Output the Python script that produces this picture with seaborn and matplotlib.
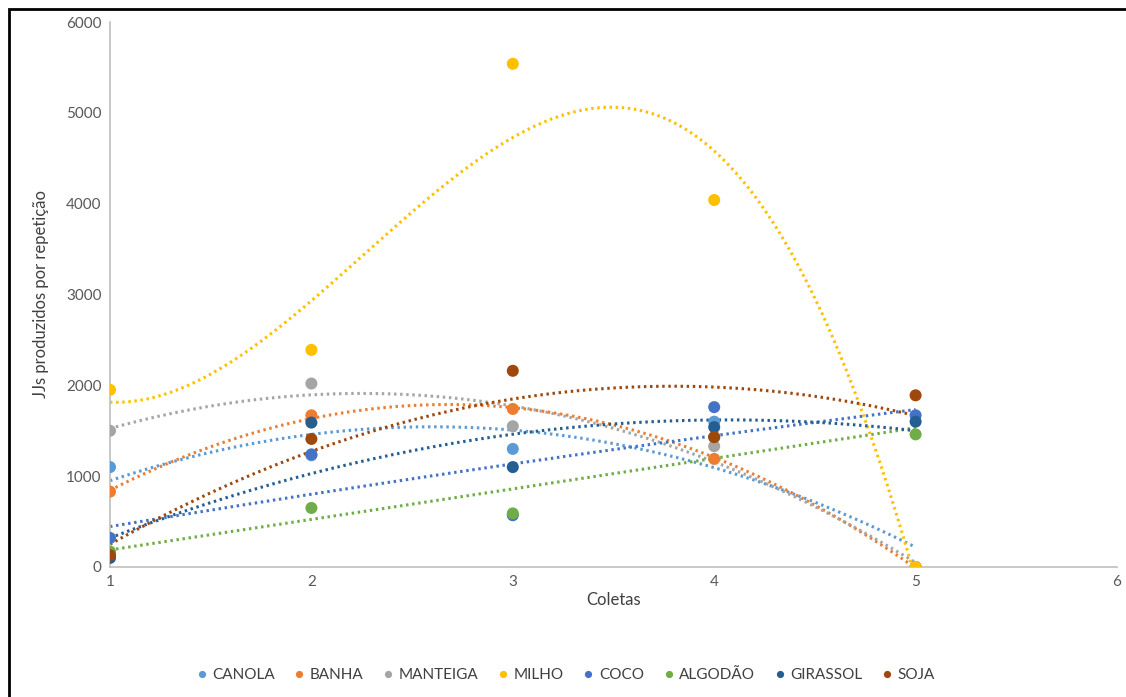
import numpy as np
import pandas as pd
import matplotlib.pyplot as plt
import seaborn as sns
from matplotlib.patches import Rectangle

coletas = [1, 2, 3, 4, 5]
canola = [1100, 1230, 1300, 1600, 0]
banha = [830, 1670, 1740, 1190, 0]
manteiga = [1500, 2020, 1550, 1330, 0]
milho = [1950, 2390, 5540, 4040, 0]
coco = [320, 1240, 570, 1760, 1670]
algodao = [170, 650, 590, 1430, 1460]
girassol = [100, 1590, 1100, 1540, 1600]
soja = [130, 1410, 2160, 1430, 1890]

series = {"CANOLA": canola, "BANHA": banha, "MANTEIGA": manteiga, "MILHO": milho,
          "COCO": coco, "ALGODÃO": algodao, "GIRASSOL": girassol, "SOJA": soja}
cores = ["#5B9BD5", "#ED7D31", "#A5A5A5", "#FFC000", "#4472C4", "#70AD47", "#255E91", "#9E480E"]
ordem = {"MILHO": 3}  # grau do polinômio da linha de tendência

rows = []
for nome, vals in series.items():
    for x, y in zip(coletas, vals):
        rows.append({"Coleta": x, "JJs": y, "Óleo": nome})
df = pd.DataFrame(rows)

sns.set_style("white")
plt.rcParams['font.family'] = ['Lato', 'DejaVu Sans']

fig = plt.figure(figsize=(11.26, 6.97), dpi=100)
ax = fig.add_axes([110 / 1126, 1 - 567 / 697, (1117 - 110) / 1126, (567 - 22) / 697])

# linhas de tendência polinomiais
xs = np.linspace(1, 5, 200)
for (nome, vals), cor in zip(series.items(), cores):
    coef = np.polyfit(coletas, vals, ordem.get(nome, 2))
    ax.plot(xs, np.polyval(coef, xs), color=cor, lw=2.2, ls=(0, (0.8, 1.2)), zorder=2)

sns.scatterplot(data=df, x="Coleta", y="JJs", hue="Óleo", palette=cores, s=75,
                edgecolor="none", ax=ax, zorder=3, legend=True)

ax.set_xlim(1, 6)
ax.set_ylim(0, 6000)
ax.set_xticks(range(1, 7))
ax.set_yticks(range(0, 7000, 1000))
for s in ["top", "right"]:
    ax.spines[s].set_visible(False)
for s in ["left", "bottom"]:
    ax.spines[s].set_color("#BFBFBF")
    ax.spines[s].set_linewidth(1.2)
ax.tick_params(axis="both", labelsize=11, colors="#595959", length=0, pad=6)
ax.set_xlabel("Coletas", fontsize=12, color="#404040", labelpad=2)
ax.set_ylabel("JJs produzidos por repetição", fontsize=12, color="#404040", labelpad=12)

h, l = ax.get_legend_handles_labels()
ax.legend_.remove()
leg = fig.legend(h, l, loc="center", bbox_to_anchor=(0.5, 1 - 675 / 697), ncol=8,
                 frameon=False, fontsize=11, handletextpad=0.0, columnspacing=0.9,
                 handlelength=1.4, markerscale=0.6)
for t in leg.get_texts():
    t.set_color("#404040")

fig.patches.append(Rectangle((9 / 1126, -0.1), 1.2, 1 - 9 / 697 + 0.1,
                             transform=fig.transFigure, fill=False, ec="black", lw=2))

fig.savefig("out.png", dpi=100)
